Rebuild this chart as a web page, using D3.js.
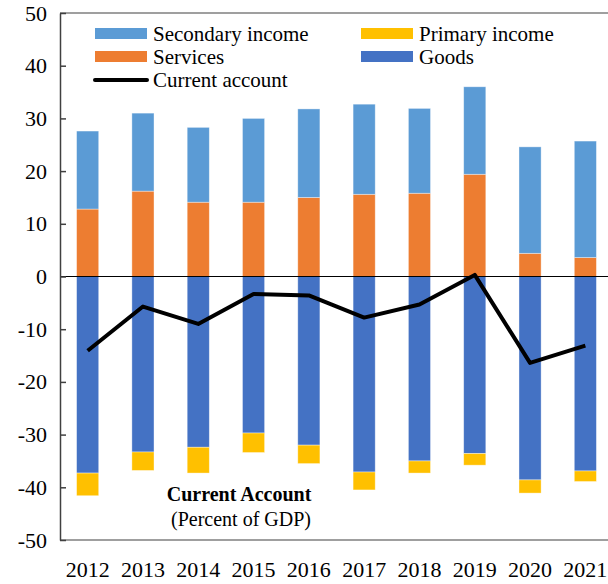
<!DOCTYPE html>
<html>
<head>
<meta charset="utf-8">
<script src="https://cdn.jsdelivr.net/npm/d3@7"></script>
<style>
  body { margin: 0; background: #fff; }
  svg { display: block; }
  svg text { font-family: "Liberation Serif", "Times New Roman", serif; }
</style>
</head>
<body>
<svg id="chart" width="608" height="584"></svg>
<script>
var years = ['2012','2013','2014','2015','2016','2017','2018','2019','2020','2021'];
var services  = [12.8, 16.2, 14.1, 14.1, 15.0, 15.6, 15.8, 19.4, 4.4, 3.6];
var secondary = [14.8, 14.8, 14.2, 15.9, 16.8, 17.1, 16.1, 16.6, 20.2, 22.1];
var goods     = [-37.3, -33.3, -32.4, -29.7, -32.0, -37.1, -35.0, -33.6, -38.6, -36.9];
var primary   = [-4.3, -3.5, -4.9, -3.7, -3.5, -3.4, -2.3, -2.2, -2.5, -2.0];
var current   = [-14.1, -5.7, -9.0, -3.3, -3.6, -7.8, -5.3, 0.3, -16.4, -13.1];
var yTicks = [-50, -40, -30, -20, -10, 0, 10, 20, 30, 40, 50];

var colors = {services: '#ED7D31', secondary: '#5B9BD5', goods: '#4472C4', primary: '#FFC000'};

var LEFT = 60, RIGHT = 613, TOP = 13, BOTTOM = 540;
var FONT = '"Liberation Serif", "Times New Roman", serif';

// table for d3.stack
var table = years.map(function(y, i) {
  return {year: y, services: services[i], secondary: secondary[i], goods: goods[i], primary: primary[i]};
});

var svg = d3.select('#chart');

var x = d3.scaleBand().domain(years).range([LEFT, RIGHT]).paddingInner(0.6).paddingOuter(0.3);
var y = d3.scaleLinear().domain([-50, 50]).range([BOTTOM, TOP]);

// box top / bottom
svg.append('line').attr('x1', LEFT).attr('x2', RIGHT).attr('y1', TOP).attr('y2', TOP)
  .attr('stroke', '#7f7f7f').attr('stroke-width', 1.5);
svg.append('line').attr('x1', LEFT).attr('x2', RIGHT).attr('y1', BOTTOM).attr('y2', BOTTOM)
  .attr('stroke', '#7f7f7f').attr('stroke-width', 1.5);

var series = d3.stack()
  .keys(['services', 'secondary', 'goods', 'primary'])
  .offset(d3.stackOffsetDiverging)(table);

svg.append('g').selectAll('g')
  .data(series)
  .enter().append('g')
  .attr('fill', function(s) { return colors[s.key]; })
  .selectAll('rect')
  .data(function(s) { return s; })
  .enter().append('rect')
  .attr('x', function(d) { return x(d.data.year); })
  .attr('width', x.bandwidth())
  .attr('y', function(d) { return y(Math.max(d[0], d[1])); })
  .attr('height', function(d) { return Math.abs(y(d[0]) - y(d[1])); })
  .attr('stroke', '#ffffff').attr('stroke-opacity', 0.5).attr('stroke-width', 0.75);

// zero line
svg.append('line').attr('x1', LEFT).attr('x2', RIGHT).attr('y1', y(0)).attr('y2', y(0))
  .attr('stroke', '#000').attr('stroke-width', 1);

// current account line
var line = d3.line()
  .x(function(d, i) { return x(years[i]) + x.bandwidth() / 2; })
  .y(function(d) { return y(d); });
svg.append('path').datum(current)
  .attr('d', line)
  .attr('fill', 'none').attr('stroke', '#000').attr('stroke-width', 4)
  .attr('stroke-linejoin', 'round');

// y axis (ticks point inward, plain hyphen for negatives)
var leftAxis = d3.axisLeft(y).tickValues(yTicks)
  .tickSizeInner(-6).tickSizeOuter(0).tickPadding(13)
  .tickFormat(function(d) { return String(d); });
var ga = svg.append('g').attr('transform', 'translate(' + LEFT + ',0)').call(leftAxis)
  .attr('font-family', FONT).attr('font-size', 22);
ga.select('.domain').attr('stroke', '#404040').attr('stroke-width', 1.5);
ga.selectAll('.tick line').attr('stroke', '#404040').attr('stroke-width', 1.5);
ga.selectAll('.tick text').attr('fill', '#000');

// x labels
svg.append('g').attr('font-family', FONT).selectAll('text')
  .data(years)
  .enter().append('text')
  .attr('x', function(d) { return x(d) + x.bandwidth() / 2; })
  .attr('y', 577)
  .attr('text-anchor', 'middle')
  .attr('font-size', 22)
  .text(function(d) { return d; });

// legend
var legendItems = [
  {label: 'Secondary income', color: colors.secondary, x: 95, y: 33.5, type: 'rect'},
  {label: 'Services', color: colors.services, x: 95, y: 56.5, type: 'rect'},
  {label: 'Current account', color: '#000', x: 95, y: 80, type: 'line'},
  {label: 'Primary income', color: colors.primary, x: 361, y: 33.5, type: 'rect'},
  {label: 'Goods', color: colors.goods, x: 361, y: 56.5, type: 'rect'}
];
var lg = svg.append('g').attr('font-family', FONT).selectAll('g').data(legendItems).enter().append('g')
  .attr('transform', function(d) { return 'translate(' + d.x + ',' + d.y + ')'; });
lg.filter(function(d) { return d.type === 'rect'; }).append('rect')
  .attr('x', 0).attr('y', -5.5).attr('width', 52).attr('height', 11)
  .attr('fill', function(d) { return d.color; });
lg.filter(function(d) { return d.type === 'line'; }).append('line')
  .attr('x1', 0).attr('x2', 52).attr('y1', 0).attr('y2', 0)
  .attr('stroke', '#000').attr('stroke-width', 4).attr('stroke-linecap', 'round');
lg.append('text')
  .attr('x', 58).attr('y', 7)
  .attr('font-size', 21)
  .text(function(d) { return d.label; });

// annotation
svg.append('text').attr('x', 239).attr('y', 501).attr('text-anchor', 'middle')
  .attr('font-family', FONT)
  .attr('font-size', 20).attr('font-weight', 'bold').text('Current Account');
svg.append('text').attr('x', 241).attr('y', 526).attr('text-anchor', 'middle')
  .attr('font-family', FONT)
  .attr('font-size', 20).text('(Percent of GDP)');
</script>
</body>
</html>
